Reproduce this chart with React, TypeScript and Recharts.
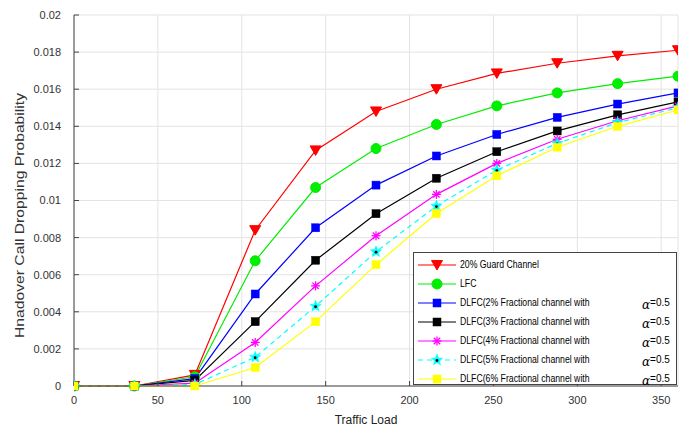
import { LineChart, Line, XAxis, YAxis, CartesianGrid } from 'recharts';

const trafficLoad = [0, 36, 72, 108, 144, 180, 216, 252, 288, 324, 360];

const guard20 = [0, 0, 0.0006, 0.0084, 0.0127, 0.0148, 0.0160, 0.01685, 0.0174, 0.0178, 0.0181];
const lfc = [0, 0, 0.0005, 0.00675, 0.0107, 0.0128, 0.0141, 0.0151, 0.0158, 0.0163, 0.0167];
const dlfc2 = [0, 0, 0.0004, 0.00496, 0.00853, 0.01083, 0.0124, 0.01356, 0.01448, 0.0152, 0.0158];
const dlfc3 = [0, 0, 0.0003, 0.00347, 0.00678, 0.00929, 0.0112, 0.01263, 0.01375, 0.01462, 0.01532];
const dlfc4 = [0, 0, 0.00015, 0.00235, 0.0054, 0.0081, 0.01033, 0.012, 0.0133, 0.0143, 0.0151];
const dlfc5 = [0, 0, 0.00008, 0.00155, 0.0043, 0.00724, 0.0097, 0.01164, 0.01308, 0.0142, 0.015];
const dlfc6 = [0, 0, 0, 0.001, 0.00347, 0.00654, 0.0093, 0.01133, 0.01287, 0.014, 0.01488];

const xTicks = [0, 50, 100, 150, 200, 250, 300, 350];
const yTicks = [0, 0.002, 0.004, 0.006, 0.008, 0.01, 0.012, 0.014, 0.016, 0.018, 0.02];

const seriesNames = [
  '20% Guard Channel',
  'LFC',
  'DLFC(2% Fractional channel with',
  'DLFC(3% Fractional channel with',
  'DLFC(4% Fractional channel with',
  'DLFC(5% Fractional channel with',
  'DLFC(6% Fractional channel with',
];
const alphaText = '=0.5';

const seriesValues = [guard20, lfc, dlfc2, dlfc3, dlfc4, dlfc5, dlfc6];

const chartData = trafficLoad.map((load, i) => {
  const row: Record<string, number> = { load };
  seriesValues.forEach((vals, s) => {
    row['s' + s] = vals[i];
  });
  return row;
});

type MarkerKind = 'tri' | 'circle' | 'square' | 'asterisk' | 'star';

const styles: { color: string; marker: MarkerKind; dash?: string; alpha: boolean }[] = [
  { color: '#ff0000', marker: 'tri', alpha: false },
  { color: '#00ee00', marker: 'circle', alpha: false },
  { color: '#0000ff', marker: 'square', alpha: true },
  { color: '#000000', marker: 'square', alpha: true },
  { color: '#ff00ff', marker: 'asterisk', alpha: true },
  { color: '#00ffff', marker: 'star', dash: '5 4', alpha: true },
  { color: '#ffff00', marker: 'square', alpha: true },
];

function Marker({ kind, color, cx, cy }: { kind: MarkerKind; color: string; cx: number; cy: number }) {
  if (kind === 'tri') {
    return <polygon points={`${cx - 5.5},${cy - 4.5} ${cx + 5.5},${cy - 4.5} ${cx},${cy + 5}`} fill={color} stroke={color} />;
  }
  if (kind === 'circle') {
    return <circle cx={cx} cy={cy} r={5} fill={color} stroke={color} />;
  }
  if (kind === 'square') {
    return <rect x={cx - 4} y={cy - 4} width={8} height={8} fill={color} stroke={color} strokeWidth={0.5} />;
  }
  if (kind === 'asterisk') {
    const r = 4.5;
    const d = r * 0.707;
    return (
      <g stroke={color} strokeWidth={1.3}>
        <line x1={cx - r} y1={cy} x2={cx + r} y2={cy} />
        <line x1={cx} y1={cy - r} x2={cx} y2={cy + r} />
        <line x1={cx - d} y1={cy - d} x2={cx + d} y2={cy + d} />
        <line x1={cx - d} y1={cy + d} x2={cx + d} y2={cy - d} />
      </g>
    );
  }
  const pts: string[] = [];
  for (let k = 0; k < 10; k++) {
    const rr = k % 2 === 0 ? 6 : 2.6;
    const a = -Math.PI / 2 + (k * Math.PI) / 5;
    pts.push(`${cx + rr * Math.cos(a)},${cy + rr * Math.sin(a)}`);
  }
  return (
    <g>
      <polygon points={pts.join(' ')} fill={color} stroke={color} strokeWidth={0.5} />
      <circle cx={cx} cy={cy + 0.5} r={1.4} fill="#000" />
    </g>
  );
}

const axisColor = '#444';
const fontFam = 'Liberation Sans, Arial, sans-serif';
const tickFont = { fontSize: 11, fill: '#333', fontFamily: fontFam };

function LegendBox() {
  return (
    <div
      style={{
        position: 'absolute',
        left: 413,
        top: 252,
        width: 264,
        height: 133,
        border: `1px solid ${axisColor}`,
        background: '#fff',
        fontFamily: fontFam,
        fontSize: 10,
        color: '#000',
        boxSizing: 'border-box',
        paddingTop: 2,
      }}
    >
      {seriesNames.map((name, i) => (
        <div key={name} style={{ position: 'relative', height: 19, display: 'flex', alignItems: 'center' }}>
          <svg width={44} height={16} style={{ marginLeft: 2, flex: 'none' }}>
            <line x1={2} y1={8} x2={40} y2={8} stroke={styles[i].color} strokeWidth={1.2} strokeDasharray={styles[i].dash} />
            <Marker kind={styles[i].marker} color={styles[i].color} cx={21} cy={8} />
          </svg>
          <span style={{ display: 'inline-block', transform: 'scaleX(0.87)', transformOrigin: 'left center', whiteSpace: 'nowrap' }}>{name}</span>
          {styles[i].alpha && (
            <span style={{ position: 'absolute', left: 228, top: 2, fontSize: 10 }}>
              <span style={{ fontFamily: 'DejaVu Serif, serif', fontStyle: 'italic', fontSize: 12, position: 'relative', top: 3 }}>α</span>
              {alphaText}
            </span>
          )}
        </div>
      ))}
    </div>
  );
}

export default function App() {
  return (
    <div style={{ position: 'absolute', left: 0, top: 0, width: 686, height: 431, background: '#fff' }}>
      <LineChart width={686} height={431} data={chartData} margin={{ top: 15, right: 8, bottom: 15, left: 9 }}>
        <CartesianGrid stroke="#e3e3e3" strokeWidth={1} />
        <XAxis
          dataKey="load"
          type="number"
          domain={[0, 360]}
          ticks={xTicks}
          allowDataOverflow
          height={30}
          stroke={axisColor}
          tickSize={-5}
          tickMargin={15}
          tick={tickFont}
          label={{
            content: () => (
              <text x={366} y={424} textAnchor="middle" fontSize={12} fill="#222" fontFamily={fontFam}>
                Traffic Load
              </text>
            ),
          }}
        />
        <XAxis xAxisId="top" orientation="top" dataKey="load" type="number" domain={[0, 360]} ticks={xTicks} height={0} stroke={axisColor} tickSize={-5} tick={false} />
        <YAxis
          type="number"
          domain={[0, 0.02]}
          ticks={yTicks}
          width={65}
          stroke={axisColor}
          tickSize={-5}
          tickMargin={18}
          tick={tickFont}
          tickFormatter={(v: number) => (v === 0 ? '0' : String(v))}
          label={{
            content: () => (
              <text
                x={19.5}
                y={215.5}
                transform="rotate(-90, 19.5, 215.5)"
                textAnchor="middle"
                dominantBaseline="central"
                fontSize={12}
                textLength={245}
                lengthAdjust="spacingAndGlyphs"
                fill="#333"
                fontFamily={fontFam}
              >
                Hnadover Call Dropping Probability
              </text>
            ),
          }}
        />
        <YAxis yAxisId="right" orientation="right" type="number" domain={[0, 0.02]} ticks={yTicks} width={0} stroke={axisColor} tickSize={-5} tick={false} />
        {styles.map((st, s) => (
          <Line
            key={s}
            dataKey={'s' + s}
            stroke={st.color}
            strokeWidth={1.2}
            strokeDasharray={st.dash}
            type="linear"
            isAnimationActive={false}
            dot={(p: any) => <Marker key={`m${s}-${p.index}`} kind={st.marker} color={st.color} cx={p.cx} cy={p.cy} />}
            activeDot={false}
          />
        ))}
      </LineChart>
      <LegendBox />
    </div>
  );
}
